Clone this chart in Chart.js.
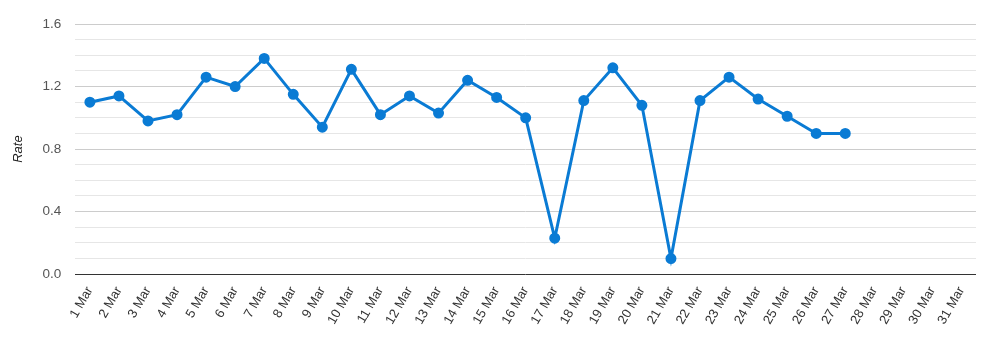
<!DOCTYPE html>
<html>
<head>
<meta charset="utf-8">
<script src="https://cdn.jsdelivr.net/npm/chart.js@4"></script>
<style>
  html, body { margin: 0; padding: 0; background: #fff; }
  #wrap { width: 986px; height: 352px; position: relative; }
</style>
</head>
<body>
<div id="wrap"><canvas id="rateChart"></canvas></div>
<script>
// Données
const days = [];
for (let d = 1; d <= 31; d++) days.push(d + ' Mar');
const rates = [1.10, 1.14, 0.98, 1.02, 1.26, 1.20, 1.38, 1.15, 0.94, 1.31,
               1.02, 1.14, 1.03, 1.24, 1.13, 1.00, 0.23, 1.11, 1.32, 1.08,
               0.10, 1.11, 1.26, 1.12, 1.01, 0.90, 0.90];
const yMin = 0;
const yMax = 1.6;

const lineColor = '#0a7bd4';

function isMajor(v) {
    return Math.round(v * 10) % 4 === 0;
}

new Chart(document.getElementById('rateChart'), {
    type: 'line',
    data: {
        labels: days,
        datasets: [{
            label: 'Rate',
            data: rates,
            borderColor: lineColor,
            backgroundColor: lineColor,
            borderWidth: 3,
            pointRadius: 4,
            pointHoverRadius: 5,
            tension: 0,
            fill: false
        }]
    },
    options: {
        responsive: true,
        maintainAspectRatio: false,
        animation: false,
        layout: { padding: { left: 11, right: 10, top: 24, bottom: 15 } },
        plugins: {
            legend: { display: false },
            tooltip: { enabled: false }
        },
        scales: {
            x: {
                offset: true,
                grid: { display: false, drawTicks: false },
                border: { display: false },
                ticks: {
                    color: '#333',
                    font: { family: 'Liberation Sans', size: 13 },
                    minRotation: 60,
                    maxRotation: 60,
                    autoSkip: false,
                    padding: 10
                }
            },
            y: {
                min: yMin,
                max: yMax,
                title: {
                    display: true,
                    text: 'Rate',
                    color: '#222',
                    font: { family: 'Liberation Sans', size: 13, style: 'italic' },
                    padding: { top: 0, bottom: 2 }
                },
                grid: {
                    drawTicks: false,
                    color: ctx => {
                        const v = ctx.tick.value;
                        if (Math.abs(v) < 1e-6) return '#333';
                        return isMajor(v) ? '#cccccc' : '#e6e6e6';
                    },
                    lineWidth: 1
                },
                border: { display: false },
                ticks: {
                    stepSize: 0.1,
                    autoSkip: false,
                    color: '#555',
                    padding: 14,
                    font: { family: 'Liberation Sans', size: 13.5 },
                    callback: v => isMajor(v) ? v.toFixed(1) : ''
                }
            }
        }
    }
});
</script>
</body>
</html>
